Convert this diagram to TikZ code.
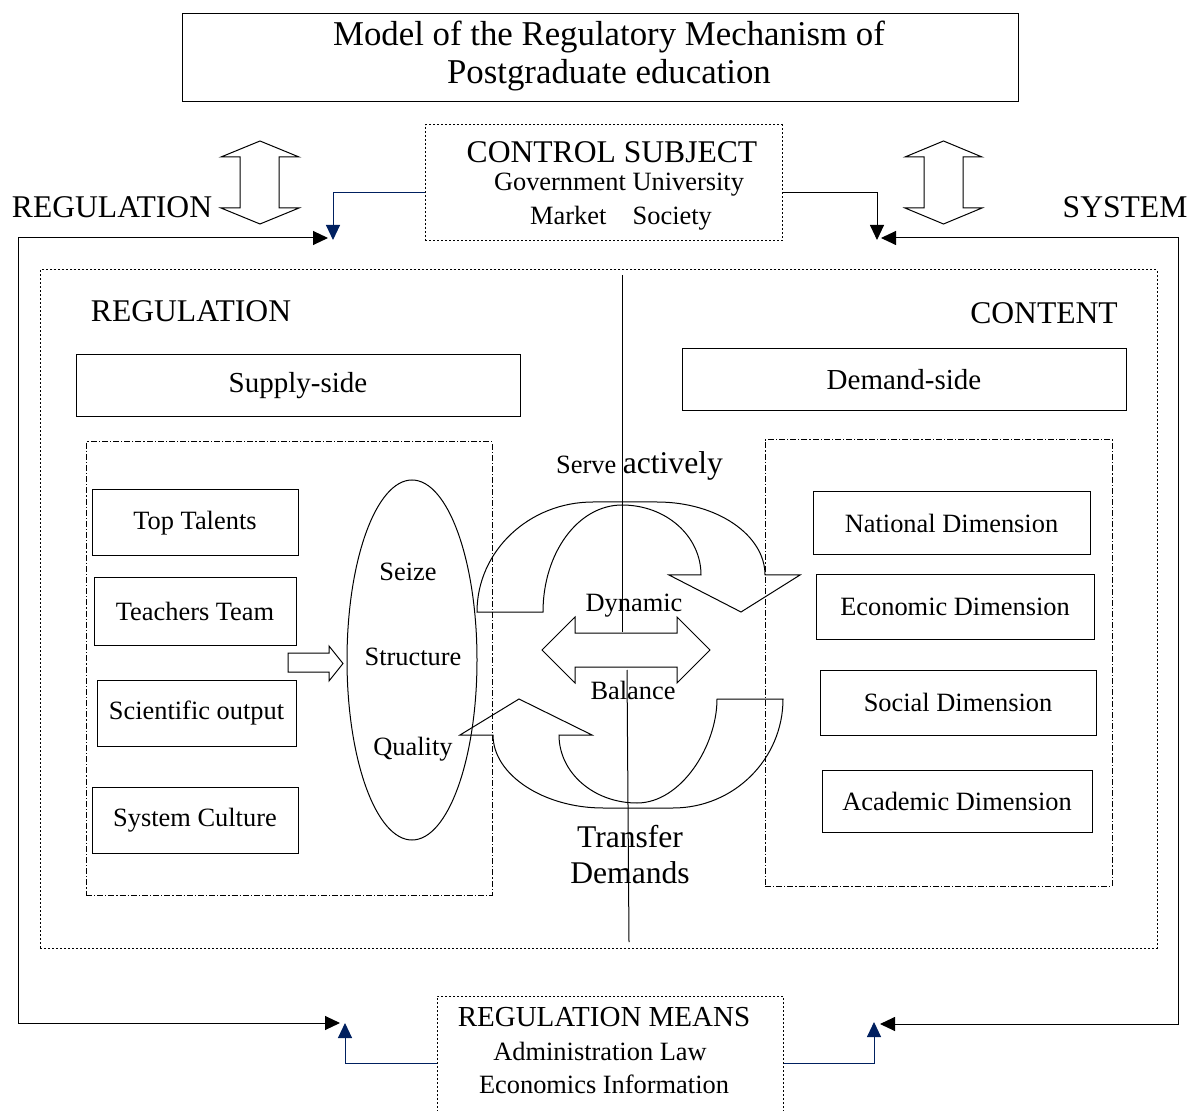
\documentclass[tikz,border=0pt]{standalone}
\usepackage{fontspec}
\setmainfont{Liberation Serif}
\usetikzlibrary{shapes.geometric,arrows.meta}
\definecolor{navyblue}{RGB}{0,32,96}
\newcommand{\titlesize}{\fontsize{17.4}{19}\selectfont}
\newcommand{\bigsize}{\fontsize{15.8}{18}\selectfont}
\newcommand{\midsize}{\fontsize{14.5}{17}\selectfont}
\newcommand{\smallsize}{\fontsize{13.2}{16}\selectfont}

\begin{document}
\begin{tikzpicture}[x=0.5pt, y=-0.5pt, line width=0.5pt,
    plainbox/.style={rectangle, draw, font=\smallsize, inner sep=0pt},
    dotbox/.style={rectangle, draw, dash pattern=on 1pt off 1pt, inner sep=0pt},
    dashdotbox/.style={rectangle, draw, dash pattern=on 3pt off 1pt on 0.6pt off 1pt, inner sep=0pt},
    txt/.style={font=\smallsize, inner sep=0pt},
    blktip/.style={-{Triangle[length=7.5pt,width=7pt]}},
    navytip/.style={draw=navyblue, -{Triangle[length=7.5pt,width=7pt]}, navyblue},
    hollow/.style={draw, fill=white, line join=miter}]

\useasboundingbox (0,0) rectangle (1198,1111);

% Nodes
\node [plainbox, minimum width=418pt, minimum height=44pt] (title) at (600,58) {};
\node [txt, font=\titlesize, align=center] (titletext) at (609,56) {Model of the Regulatory Mechanism of\\Postgraduate education};

\node [dotbox, minimum width=178.5pt, minimum height=58pt] (ctrl) at (603.5,183) {};
\node [txt, font=\bigsize] (ctrlhead) at (612,152) {CONTROL SUBJECT};
\node [txt] (ctrlgov) at (619,185) {Government University};
\node [txt] (ctrlmkt) at (621,218) {Market\quad Society};

\node [txt, font=\bigsize] (regleft) at (112,207) {REGULATION};
\node [txt, font=\bigsize] (sysright) at (1125,207) {SYSTEM};

\node [dotbox, minimum width=558.5pt, minimum height=339pt] (frame) at (598.5,609) {};
\node [txt, font=\bigsize] (reghead) at (191,311) {REGULATION};
\node [txt, font=\bigsize] (conthead) at (1044,313) {CONTENT};

\node [plainbox, font=\midsize, minimum width=222pt, minimum height=31pt] (supply) at (298,386) {Supply-side};
\node [plainbox, font=\midsize, minimum width=222pt, minimum height=31pt] (demand) at (904,380) {Demand-side};

\node [dashdotbox, minimum width=203pt, minimum height=226.5pt] (supplyin) at (289,668.5) {};
\node [dashdotbox, minimum width=173.5pt, minimum height=223pt] (demandin) at (938.5,663) {};

\node [plainbox, minimum width=103pt, minimum height=33pt] (talents) at (195,523) {Top Talents};
\node [plainbox, minimum width=101pt, minimum height=33.5pt] (teachers) at (195,611.5) {Teachers Team};
\node [plainbox, minimum width=99.5pt, minimum height=33pt] (science) at (196.5,713) {Scientific output};
\node [plainbox, minimum width=103pt, minimum height=33pt] (culture) at (195,820) {System Culture};

\node [ellipse, draw, minimum width=65pt, minimum height=180pt, inner sep=0pt] (factors) at (412,660) {};
\node [txt] (seize) at (408,572) {Seize};
\node [txt] (structure) at (413,657) {Structure};
\node [txt] (quality) at (413,749) {Quality};

\node [plainbox, minimum width=138.5pt, minimum height=31.5pt] (national) at (951.5,523.5) {National Dimension};
\node [plainbox, minimum width=139pt, minimum height=32pt] (economic) at (955,607) {Economic Dimension};
\node [plainbox, minimum width=138pt, minimum height=32.5pt] (social) at (958,702.5) {Social Dimension};
\node [plainbox, minimum width=135pt, minimum height=31pt] (academic) at (957,801) {Academic Dimension};

\node [dotbox, minimum width=173pt, minimum height=67pt] (means) at (610,1063) {};
\node [txt, font=\midsize] (meanshead) at (604,1017) {REGULATION MEANS};
\node [txt] (meansadm) at (600,1051) {Administration Law};
\node [txt] (meanseco) at (604,1084) {Economics Information};

% Hollow arrows
\draw [hollow] (260,141) -- (299,157) -- (279,157) -- (279,208) -- (299,208) -- (260,224)
  -- (221,208) -- (240,208) -- (240,157) -- (221,157) -- cycle;
\draw [hollow] (943.5,141) -- (982,157) -- (963,157) -- (963,208) -- (982,208) -- (943.5,224)
  -- (905,208) -- (924,208) -- (924,157) -- (905,157) -- cycle;
\draw [hollow] (288,653) -- (329,653) -- (329,646) -- (343,663.5) -- (329,681) -- (329,672) -- (288,672) -- cycle;

% Middle line and balance arrow
\draw (622,275) -- (622,632);
\draw (627,670) -- (629,942);
\draw [hollow] (542,650) -- (575,617) -- (575,633) -- (677,633) -- (677,617) -- (710,650)
  -- (677,683) -- (677,667) -- (575,667) -- (575,683) -- cycle;

% Curved arrows
\draw [line join=miter] (477,612) .. controls (477,551) and (529,502) .. (593,502) -- (657,502)
  .. controls (717,502) and (765,535) .. (765,575) -- (800,575) -- (741,612) -- (669,575) -- (701,575)
  .. controls (701,536) and (666,505) .. (622,505) .. controls (578,505) and (543,553) .. (543,612) -- cycle;
\draw [line join=miter] (493,735) .. controls (493,775) and (544,808) .. (603,808) -- (673,808)
  .. controls (734,808) and (783,759) .. (783,699) -- (717,699)
  .. controls (717,746) and (681,803) .. (637,803) .. controls (594,803) and (559,773) .. (559,735)
  -- (592,735) -- (519,699) -- (460,735) -- cycle;

\node [txt] (serve) at (639.5,466) {Serve {\bigsize actively}};
\node [txt] (dynamic) at (634,606) {Dynamic};
\node [txt] (balance) at (633,690) {Balance};
\node [txt, font=\bigsize, align=center] (transfer) at (630,855) {Transfer\\Demands};

% Arrows
\coordinate (lcornertop) at (18,238);
\coordinate (lcornerbot) at (18,1023);
\coordinate (rcornertop) at (1178,238);
\coordinate (rcornerbot) at (1178,1024);
\coordinate (ltopblk) at (328,238);
\coordinate (ltopnavy) at (333,240);
\coordinate (rtopblk) at (881,238);
\coordinate (rtopnavy) at (877,240);
\coordinate (lbotblk) at (340,1023);
\coordinate (lbotnavy) at (345,1023);
\coordinate (rbotblk) at (880,1024);
\coordinate (rbotnavy) at (874,1022);

\draw [navytip] ([yshift=-5pt]ctrl.west) -| (ltopnavy);
\draw [blktip] ([yshift=-5pt]ctrl.east) -| (rtopnavy);
\draw [blktip] (lcornerbot) -- (lcornertop) -- (ltopblk);
\draw [blktip] (lcornertop) -- (lcornerbot) -- (lbotblk);
\draw [blktip] (rcornerbot) -- (rcornertop) -- (rtopblk);
\draw [blktip] (rcornertop) -- (rcornerbot) -- (rbotblk);
\draw [navytip] (means.west) -| (lbotnavy);
\draw [navytip] (means.east) -| (rbotnavy);

\end{tikzpicture}
\end{document}
